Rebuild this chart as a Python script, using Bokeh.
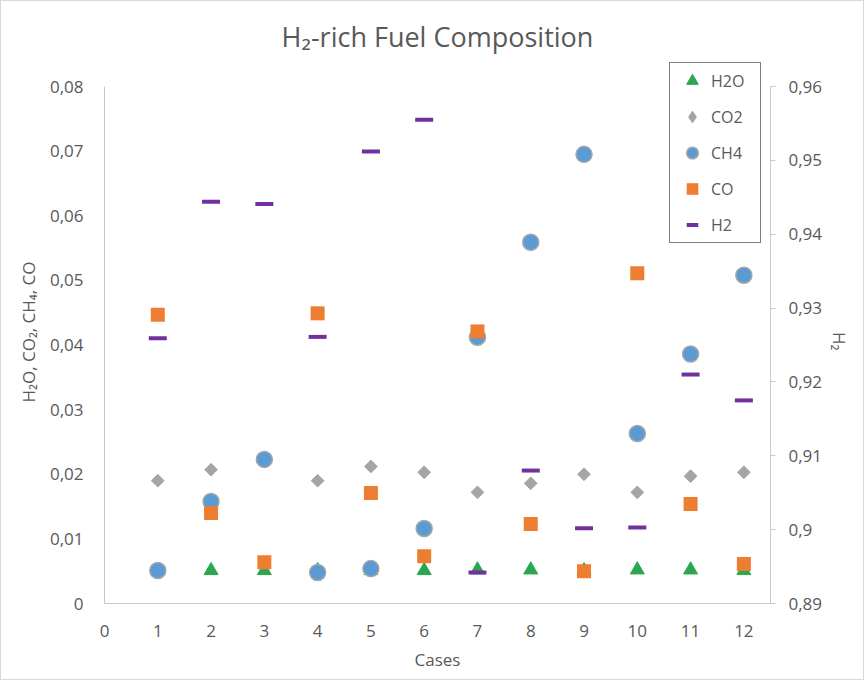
import math

from bokeh.embed import file_html
from bokeh.models import (FixedTicker, Legend, LegendItem, LinearAxis, Range1d)
from bokeh.plotting import figure
from bokeh.resources import INLINE

# --- data -------------------------------------------------------------
cases = [1, 2, 3, 4, 5, 6, 7, 8, 9, 10, 11, 12]
h2o = [0.0051, 0.0051, 0.0051, 0.0051, 0.0051, 0.0051,
       0.0052, 0.0052, 0.0051, 0.0052, 0.0052, 0.0051]
co2 = [0.0190, 0.0207, 0.0222, 0.0190, 0.0212, 0.0203,
       0.0172, 0.0186, 0.0200, 0.0172, 0.0197, 0.0203]
ch4 = [0.0051, 0.0158, 0.0223, 0.0048, 0.0054, 0.0116,
       0.0412, 0.0559, 0.0695, 0.0263, 0.0386, 0.0508]
co = [0.0447, 0.0140, 0.0064, 0.0449, 0.0171, 0.0073,
      0.0421, 0.0123, 0.0050, 0.0511, 0.0154, 0.0061]
h2 = [0.9259, 0.9444, 0.9441, 0.9261, 0.9512, 0.9555,
      0.8942, 0.9080, 0.9002, 0.9003, 0.9210, 0.9175]

x_ticks = [0, 1, 2, 3, 4, 5, 6, 7, 8, 9, 10, 11, 12]
left_ticks = [0, 0.01, 0.02, 0.03, 0.04, 0.05, 0.06, 0.07, 0.08]
left_labels = ["0", "0,01", "0,02", "0,03", "0,04", "0,05", "0,06", "0,07", "0,08"]
right_ticks = [0.89, 0.90, 0.91, 0.92, 0.93, 0.94, 0.95, 0.96]
right_labels = ["0,89", "0,9", "0,91", "0,92", "0,93", "0,94", "0,95", "0,96"]

FONT = "Open Sans"
TEXT = "#595959"
AXIS = "#c9c9c9"

# The frame reaches a little above the top tick so that the legend box,
# which sits partly above the axes, is not clipped; the axis lines are
# bounded to the tick span.
HEADROOM = 543 / 517
left_top = left_ticks[-1] * HEADROOM
right_top = right_ticks[0] + (right_ticks[-1] - right_ticks[0]) * HEADROOM

p = figure(
    width=864, height=680,
    x_range=Range1d(0, 12.5), y_range=Range1d(0, left_top),
    output_backend="svg", toolbar_location=None,
    min_border_left=103, min_border_right=95,
    min_border_top=59, min_border_bottom=78,
    styles={"border": "1px solid #d9d9d9"},
)
p.extra_y_ranges = {"h2": Range1d(right_ticks[0], right_top)}
p.outline_line_color = None
p.xgrid.visible = False
p.ygrid.visible = False
p.background_fill_color = "white"
p.border_fill_color = "white"

# title
p.title.text = "H\u2082-rich Fuel Composition"
p.title.align = "center"
p.title.text_font = FONT
p.title.text_font_size = "27px"
p.title.text_font_style = "normal"
p.title.text_color = TEXT
p.title.standoff = 12

# bottom axis
xa = p.xaxis[0]
xa.ticker = FixedTicker(ticks=x_ticks)
xa.axis_label = "Cases"

# left axis
ya = p.yaxis[0]
ya.ticker = FixedTicker(ticks=left_ticks)
ya.bounds = (left_ticks[0], left_ticks[-1])
ya.major_label_overrides = {t: s for t, s in zip(left_ticks, left_labels)}
ya.axis_label = "H\u2082O, CO\u2082, CH\u2084, CO"

# right axis for H2
ra = LinearAxis(y_range_name="h2", ticker=FixedTicker(ticks=right_ticks),
                bounds=(right_ticks[0], right_ticks[-1]))
ra.major_label_overrides = {t: s for t, s in zip(right_ticks, right_labels)}
ra.axis_label = "H\u2082"
p.add_layout(ra, "right")

for ax in (xa, ya, ra):
    ax.axis_line_color = AXIS
    ax.axis_line_width = 1
    ax.minor_tick_line_color = None
    ax.major_label_text_font = FONT
    ax.major_label_text_font_size = "17px"
    ax.major_label_text_color = TEXT
    ax.axis_label_text_font = FONT
    ax.axis_label_text_font_size = "17px"
    ax.axis_label_text_font_style = "normal"
    ax.axis_label_text_color = TEXT

xa.major_tick_line_color = None
ya.major_tick_line_color = None
xa.major_label_standoff = 15
xa.axis_label_standoff = 8
ya.major_label_standoff = 15
ya.axis_label_standoff = 7

ra.major_tick_line_color = AXIS
ra.major_tick_in = 0
ra.major_tick_out = 5
ra.major_label_standoff = 13
ra.axis_label_standoff = 14
ra.axis_label_orientation = -math.pi / 2

# series, drawn back to front
r_h2o = p.scatter(cases, h2o, marker="triangle", size=14,
                  fill_color="#2aa74f", line_color="#2aa74f", line_width=1)
r_co2 = p.scatter(cases, co2, marker="square", angle=math.pi / 4, size=9,
                  fill_color="#a5a5a5", line_color="#a5a5a5", line_width=1)
r_ch4 = p.scatter(cases, ch4, marker="circle", size=16,
                  fill_color="#5b9bd5", line_color="#a5a5a5", line_width=1.5)
r_co = p.scatter(cases, co, marker="square", size=14,
                 fill_color="#ed7d31", line_color="#ed7d31", line_width=0)
r_h2 = p.scatter(cases, h2, marker="dash", size=18, y_range_name="h2",
                 line_color="#7030a0", line_width=4, line_cap="butt")

# legend key for CO2 shown as a diamond (legend icons are drawn unrotated);
# its single NaN point draws nothing in the plot area
co2_key = p.scatter(x=[float("nan")], y=[float("nan")], marker="diamond",
                    fill_color="#a5a5a5", line_color="#a5a5a5", line_width=1)

legend = Legend(
    items=[
        LegendItem(label="H2O", renderers=[r_h2o]),
        LegendItem(label="CO2", renderers=[co2_key]),
        LegendItem(label="CH4", renderers=[r_ch4]),
        LegendItem(label="CO", renderers=[r_co]),
        LegendItem(label="H2", renderers=[r_h2]),
    ],
    location=(565, 360),
    orientation="vertical",
    glyph_width=38, glyph_height=29,
    label_width=46, label_height=29,
    spacing=7, padding=3, margin=0,
    label_standoff=0,
    label_text_font=FONT, label_text_font_size="16px", label_text_color=TEXT,
    border_line_color="black", border_line_width=1.5,
    background_fill_color="white", background_fill_alpha=1,
)
p.add_layout(legend, "center")

open("out.html", "w").write(file_html(p, INLINE))
